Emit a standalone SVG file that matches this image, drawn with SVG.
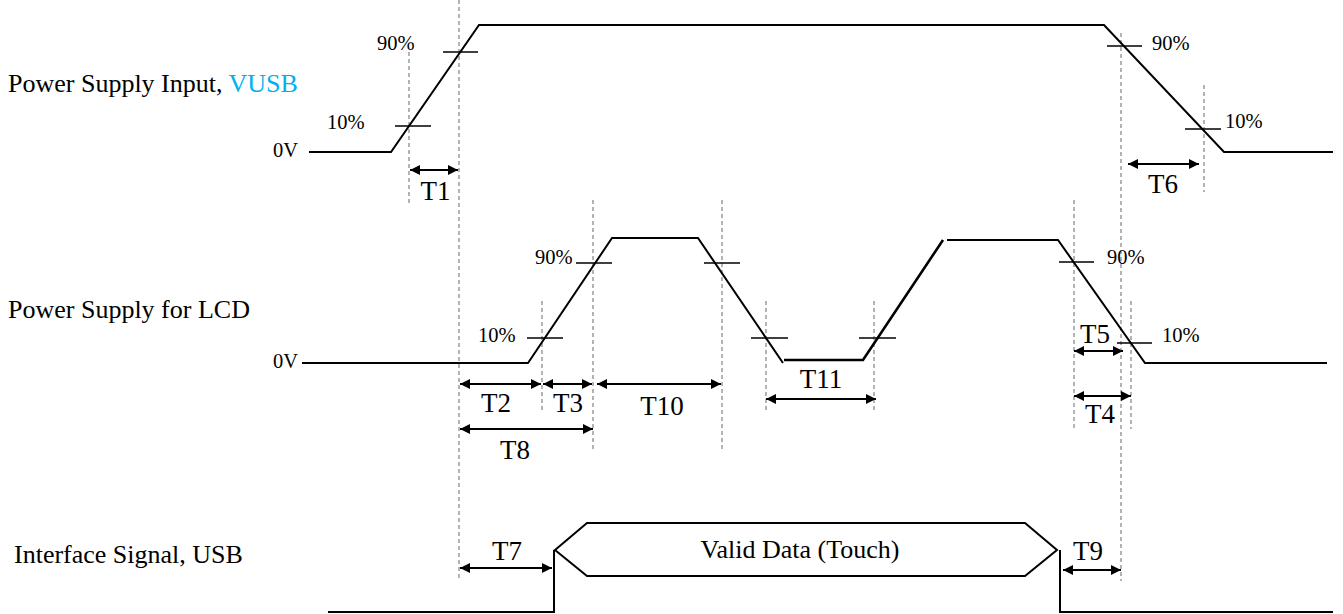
<svg xmlns="http://www.w3.org/2000/svg" width="1343" height="614" viewBox="0 0 1343 614">
<style>
.sig{fill:none;stroke:#000;stroke-width:2;stroke-linejoin:miter}
.tick{stroke:#000;stroke-width:1.6}
.dash{stroke:#8c8c8c;stroke-width:1.3;stroke-dasharray:4 3}
.arr{stroke:#000;stroke-width:2;marker-start:url(#ah);marker-end:url(#ah)}
.lbl{font-size:26px}
.t{font-size:27px;text-anchor:middle}
.pc{font-size:20.5px}
.ov{font-size:20.5px}
</style>
<defs>
<marker id="ah" viewBox="0 0 10 10" refX="10" refY="5" markerWidth="5" markerHeight="5" markerUnits="strokeWidth" orient="auto-start-reverse">
<path d="M0,0 L10,5 L0,10 z" fill="#000"/>
</marker>
</defs>
<g id="guides">
<line class="dash" x1="409" y1="52" x2="409" y2="203"/>
<line class="dash" x1="459" y1="0" x2="459" y2="581"/>
<line class="dash" x1="1121" y1="33" x2="1121" y2="581"/>
<line class="dash" x1="1204" y1="85" x2="1204" y2="192"/>
<line class="dash" x1="542" y1="301" x2="542" y2="410"/>
<line class="dash" x1="593" y1="200" x2="593" y2="450"/>
<line class="dash" x1="722" y1="200" x2="722" y2="450"/>
<line class="dash" x1="766" y1="301" x2="766" y2="410"/>
<line class="dash" x1="874" y1="301" x2="874" y2="410"/>
<line class="dash" x1="1074" y1="200" x2="1074" y2="429"/>
<line class="dash" x1="1131" y1="301" x2="1131" y2="429"/>
</g>
<g font-family="Liberation Serif, DejaVu Serif, serif" fill="#000">
<g id="vusb">
<text class="lbl" x="8" y="92">Power Supply Input, <tspan fill="#00B0F0">VUSB</tspan></text>
<text class="ov" x="273" y="157">0V</text>
<polyline class="sig" points="309,152 391,152 479,25 1104,25 1224,152 1333,152"/>
<line class="tick" x1="443" y1="52" x2="478" y2="52"/>
<line class="tick" x1="395" y1="126" x2="431" y2="126"/>
<line class="tick" x1="1107" y1="46" x2="1142" y2="46"/>
<line class="tick" x1="1185" y1="129" x2="1221" y2="129"/>
<text class="pc" x="377" y="50">90%</text>
<text class="pc" x="327" y="129">10%</text>
<text class="pc" x="1152" y="50">90%</text>
<text class="pc" x="1225" y="128">10%</text>
</g>
<g id="lcd">
<text class="lbl" x="8" y="318">Power Supply for LCD</text>
<text class="ov" x="273" y="368">0V</text>
<polyline class="sig" points="302,363 528,363 612,238 698,238 783,363"/>
<polyline class="sig" points="784,360 863,360 943,240" style="stroke-width:2.6"/>
<polyline class="sig" points="947,240 1058,240 1145,363 1327,363"/>
<line class="tick" x1="576" y1="263" x2="612" y2="263"/>
<line class="tick" x1="704" y1="263" x2="740" y2="263"/>
<line class="tick" x1="527" y1="338" x2="563" y2="338"/>
<line class="tick" x1="751" y1="338" x2="788" y2="338"/>
<line class="tick" x1="859" y1="338" x2="896" y2="338"/>
<line class="tick" x1="1059" y1="262" x2="1094" y2="262"/>
<line class="tick" x1="1117" y1="343" x2="1152" y2="343"/>
<text class="pc" x="535" y="264">90%</text>
<text class="pc" x="478" y="342">10%</text>
<text class="pc" x="1107" y="264">90%</text>
<text class="pc" x="1162" y="342">10%</text>
</g>
<g id="usb">
<text class="lbl" x="14" y="563">Interface Signal, USB</text>
<polyline class="sig" points="328,612 554,612 554,550"/>
<polygon class="sig" points="555,550 587,523 1025,523 1057,550 1025,576 587,576"/>
<polyline class="sig" points="1060,550 1060,612 1333,612"/>
<text class="lbl" x="800" y="558" text-anchor="middle">Valid Data (Touch)</text>
</g>
<g id="connectors">
<line class="arr" x1="410" y1="170" x2="458" y2="170"/>
<line class="arr" x1="1128" y1="164" x2="1199" y2="164"/>
<line class="arr" x1="460" y1="384" x2="541" y2="384"/>
<line class="arr" x1="543" y1="384" x2="592" y2="384"/>
<line class="arr" x1="597" y1="384" x2="721" y2="384"/>
<line class="arr" x1="460" y1="429" x2="593" y2="429"/>
<line class="arr" x1="766" y1="399" x2="876" y2="399"/>
<line class="arr" x1="1074" y1="351" x2="1123" y2="351"/>
<line class="arr" x1="1074" y1="396" x2="1131" y2="396"/>
<line class="arr" x1="460" y1="568" x2="552" y2="568"/>
<line class="arr" x1="1063" y1="570" x2="1121" y2="570"/>
</g>
<g id="labels">
<text class="t" x="435.5" y="200">T1</text>
<text class="t" x="1163" y="193">T6</text>
<text class="t" x="496" y="412">T2</text>
<text class="t" x="568" y="412">T3</text>
<text class="t" x="662" y="415">T10</text>
<text class="t" x="515" y="459">T8</text>
<text class="t" x="821" y="388">T11</text>
<text class="t" x="1095" y="343">T5</text>
<text class="t" x="1100" y="423">T4</text>
<text class="t" x="507" y="560">T7</text>
<text class="t" x="1088" y="560">T9</text>
</g>
</g>
</svg>
